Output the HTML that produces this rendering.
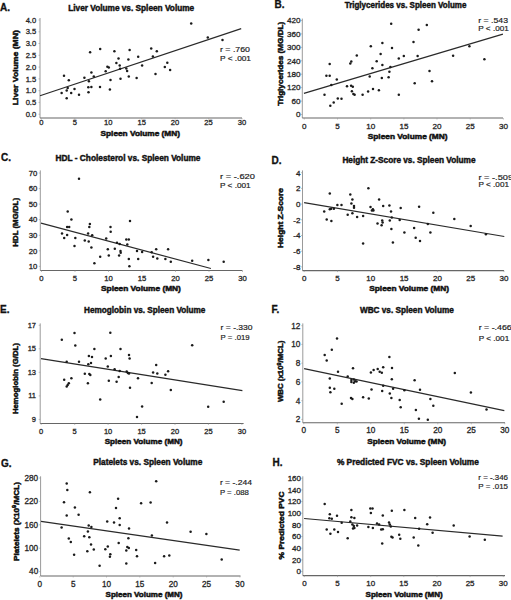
<!DOCTYPE html>
<html><head><meta charset="utf-8"><style>
html,body{margin:0;padding:0;background:#fff;}
body{width:511px;height:600px;overflow:hidden;}
svg{display:block;}
text{font-family:"Liberation Sans",sans-serif;fill:#1a1a1a;}
.lab{font-size:10.0px;font-weight:bold;fill:#111;stroke:#111;stroke-width:0.3;}
.tit{font-size:8.9px;font-weight:bold;fill:#111;stroke:#111;stroke-width:0.45;}
.axt{font-size:7.9px;font-weight:bold;fill:#111;stroke:#111;stroke-width:0.5;}
.tl{font-size:7.6px;font-weight:normal;fill:#262626;stroke:#262626;stroke-width:0.3;}
.rt{font-size:8.0px;fill:#1e1e1e;stroke:#1e1e1e;stroke-width:0.2;}
.yax{stroke:#9a9a9a;stroke-width:1;}
.xax{stroke:#666;stroke-width:1.1;}
.tk{stroke:#999;stroke-width:0.6;}
.reg{stroke:#2a2a2a;stroke-width:1.2;}
circle{fill:#1a1a1a;}
</style></head><body>
<svg width="511" height="600" viewBox="0 0 511 600">
<rect width="511" height="600" fill="#fff"/>
<text class="lab" x="0.0" y="10.8">A.</text>
<text class="tit" x="68.2" y="11.3" textLength="126.0" lengthAdjust="spacingAndGlyphs">Liver Volume vs. Spleen Volume</text>
<line class="yax" x1="40.0" y1="18.0" x2="40.0" y2="118.0"/>
<line class="xax" x1="40.0" y1="118.0" x2="242.0" y2="118.0"/>
<line class="tk" x1="38.5" y1="114.2" x2="40.0" y2="114.2"/>
<text class="tl" style="font-size:7.6px" x="36.2" y="116.8" text-anchor="end">0.0</text>
<line class="tk" x1="38.5" y1="102.4" x2="40.0" y2="102.4"/>
<text class="tl" style="font-size:7.6px" x="36.2" y="105.0" text-anchor="end">0.5</text>
<line class="tk" x1="38.5" y1="90.7" x2="40.0" y2="90.7"/>
<text class="tl" style="font-size:7.6px" x="36.2" y="93.3" text-anchor="end">1.0</text>
<line class="tk" x1="38.5" y1="78.9" x2="40.0" y2="78.9"/>
<text class="tl" style="font-size:7.6px" x="36.2" y="81.5" text-anchor="end">1.5</text>
<line class="tk" x1="38.5" y1="67.1" x2="40.0" y2="67.1"/>
<text class="tl" style="font-size:7.6px" x="36.2" y="69.7" text-anchor="end">2.0</text>
<line class="tk" x1="38.5" y1="55.3" x2="40.0" y2="55.3"/>
<text class="tl" style="font-size:7.6px" x="36.2" y="57.9" text-anchor="end">2.5</text>
<line class="tk" x1="38.5" y1="43.5" x2="40.0" y2="43.5"/>
<text class="tl" style="font-size:7.6px" x="36.2" y="46.2" text-anchor="end">3.0</text>
<line class="tk" x1="38.5" y1="31.8" x2="40.0" y2="31.8"/>
<text class="tl" style="font-size:7.6px" x="36.2" y="34.4" text-anchor="end">3.5</text>
<line class="tk" x1="38.5" y1="20.0" x2="40.0" y2="20.0"/>
<text class="tl" style="font-size:7.6px" x="36.2" y="22.6" text-anchor="end">4.0</text>
<line class="tk" x1="41.3" y1="118.0" x2="41.3" y2="119.5"/>
<text class="tl" style="font-size:7.6px" x="41.3" y="125.1" text-anchor="middle">0</text>
<line class="tk" x1="74.8" y1="118.0" x2="74.8" y2="119.5"/>
<text class="tl" style="font-size:7.6px" x="74.8" y="125.1" text-anchor="middle">5</text>
<line class="tk" x1="108.2" y1="118.0" x2="108.2" y2="119.5"/>
<text class="tl" style="font-size:7.6px" x="108.2" y="125.1" text-anchor="middle">10</text>
<line class="tk" x1="141.7" y1="118.0" x2="141.7" y2="119.5"/>
<text class="tl" style="font-size:7.6px" x="141.7" y="125.1" text-anchor="middle">15</text>
<line class="tk" x1="175.1" y1="118.0" x2="175.1" y2="119.5"/>
<text class="tl" style="font-size:7.6px" x="175.1" y="125.1" text-anchor="middle">20</text>
<line class="tk" x1="208.6" y1="118.0" x2="208.6" y2="119.5"/>
<text class="tl" style="font-size:7.6px" x="208.6" y="125.1" text-anchor="middle">25</text>
<line class="tk" x1="242.0" y1="118.0" x2="242.0" y2="119.5"/>
<text class="tl" style="font-size:7.6px" x="242.0" y="125.1" text-anchor="middle">30</text>
<text class="axt" x="100.5" y="135.9" textLength="79.5" lengthAdjust="spacingAndGlyphs">Spleen Volume (MN)</text>
<text class="axt" transform="translate(18.0,67.7) rotate(-90)" x="-37.5" y="0" textLength="75.0" lengthAdjust="spacingAndGlyphs">Liver Volume (MN)</text>
<text class="rt" x="220.0" y="52.2" textLength="30.0" lengthAdjust="spacingAndGlyphs">r = .760</text>
<text class="rt" x="220.0" y="61.0" textLength="31.0" lengthAdjust="spacingAndGlyphs">P &lt; .001</text>
<line class="reg" x1="40.0" y1="95.8" x2="241.2" y2="28.6"/>
<circle cx="64.0" cy="75.8" r="1.25"/>
<circle cx="68.8" cy="80.3" r="1.25"/>
<circle cx="61.6" cy="93.1" r="1.25"/>
<circle cx="66.7" cy="90.6" r="1.25"/>
<circle cx="67.7" cy="87.9" r="1.25"/>
<circle cx="66.7" cy="98.2" r="1.25"/>
<circle cx="71.2" cy="93.1" r="1.25"/>
<circle cx="74.5" cy="89.0" r="1.25"/>
<circle cx="79.0" cy="94.7" r="1.25"/>
<circle cx="84.4" cy="77.7" r="1.25"/>
<circle cx="88.9" cy="81.2" r="1.25"/>
<circle cx="91.4" cy="72.5" r="1.25"/>
<circle cx="93.8" cy="76.6" r="1.25"/>
<circle cx="88.3" cy="87.3" r="1.25"/>
<circle cx="91.4" cy="86.9" r="1.25"/>
<circle cx="88.5" cy="92.3" r="1.25"/>
<circle cx="90.1" cy="52.2" r="1.25"/>
<circle cx="100.2" cy="49.1" r="1.25"/>
<circle cx="100.0" cy="86.9" r="1.25"/>
<circle cx="105.7" cy="71.3" r="1.25"/>
<circle cx="107.4" cy="66.8" r="1.25"/>
<circle cx="108.8" cy="67.4" r="1.25"/>
<circle cx="110.5" cy="79.9" r="1.25"/>
<circle cx="109.9" cy="89.4" r="1.25"/>
<circle cx="114.4" cy="51.2" r="1.25"/>
<circle cx="116.4" cy="63.1" r="1.25"/>
<circle cx="118.5" cy="58.6" r="1.25"/>
<circle cx="119.7" cy="65.5" r="1.25"/>
<circle cx="120.1" cy="68.8" r="1.25"/>
<circle cx="120.5" cy="78.7" r="1.25"/>
<circle cx="126.3" cy="68.4" r="1.25"/>
<circle cx="127.1" cy="70.9" r="1.25"/>
<circle cx="128.8" cy="76.6" r="1.25"/>
<circle cx="128.4" cy="59.6" r="1.25"/>
<circle cx="129.6" cy="49.9" r="1.25"/>
<circle cx="136.6" cy="78.1" r="1.25"/>
<circle cx="138.2" cy="56.7" r="1.25"/>
<circle cx="142.1" cy="65.5" r="1.25"/>
<circle cx="191.2" cy="23.6" r="1.25"/>
<circle cx="207.8" cy="37.6" r="1.25"/>
<circle cx="222.5" cy="40.0" r="1.25"/>
<circle cx="151.2" cy="48.4" r="1.25"/>
<circle cx="156.8" cy="51.2" r="1.25"/>
<circle cx="152.9" cy="56.6" r="1.25"/>
<circle cx="167.3" cy="62.8" r="1.25"/>
<circle cx="164.8" cy="67.1" r="1.25"/>
<circle cx="170.1" cy="70.1" r="1.25"/>
<circle cx="155.5" cy="74.0" r="1.25"/>
<text class="lab" x="274.6" y="7.8">B.</text>
<text class="tit" x="344.7" y="7.6" textLength="121.7" lengthAdjust="spacingAndGlyphs">Triglycerides vs. Spleen Volume</text>
<line class="yax" x1="302.3" y1="18.6" x2="302.3" y2="118.0"/>
<line class="xax" x1="302.3" y1="118.0" x2="503.0" y2="118.0"/>
<line class="tk" x1="300.8" y1="114.5" x2="302.3" y2="114.5"/>
<text class="tl" style="font-size:8.1px" x="300.4" y="117.3" text-anchor="end">0</text>
<line class="tk" x1="300.8" y1="101.1" x2="302.3" y2="101.1"/>
<text class="tl" style="font-size:8.1px" x="300.4" y="103.9" text-anchor="end">60</text>
<line class="tk" x1="300.8" y1="87.6" x2="302.3" y2="87.6"/>
<text class="tl" style="font-size:8.1px" x="300.4" y="90.4" text-anchor="end">120</text>
<line class="tk" x1="300.8" y1="74.2" x2="302.3" y2="74.2"/>
<text class="tl" style="font-size:8.1px" x="300.4" y="77.0" text-anchor="end">180</text>
<line class="tk" x1="300.8" y1="60.8" x2="302.3" y2="60.8"/>
<text class="tl" style="font-size:8.1px" x="300.4" y="63.6" text-anchor="end">240</text>
<line class="tk" x1="300.8" y1="47.4" x2="302.3" y2="47.4"/>
<text class="tl" style="font-size:8.1px" x="300.4" y="50.2" text-anchor="end">300</text>
<line class="tk" x1="300.8" y1="33.9" x2="302.3" y2="33.9"/>
<text class="tl" style="font-size:8.1px" x="300.4" y="36.7" text-anchor="end">360</text>
<line class="tk" x1="300.8" y1="20.5" x2="302.3" y2="20.5"/>
<text class="tl" style="font-size:8.1px" x="300.4" y="23.3" text-anchor="end">420</text>
<line class="tk" x1="304.3" y1="118.0" x2="304.3" y2="119.5"/>
<text class="tl" style="font-size:8.1px" x="304.3" y="128.5" text-anchor="middle">0</text>
<line class="tk" x1="337.5" y1="118.0" x2="337.5" y2="119.5"/>
<text class="tl" style="font-size:8.1px" x="337.5" y="128.5" text-anchor="middle">5</text>
<line class="tk" x1="370.7" y1="118.0" x2="370.7" y2="119.5"/>
<text class="tl" style="font-size:8.1px" x="370.7" y="128.5" text-anchor="middle">10</text>
<line class="tk" x1="403.9" y1="118.0" x2="403.9" y2="119.5"/>
<text class="tl" style="font-size:8.1px" x="403.9" y="128.5" text-anchor="middle">15</text>
<line class="tk" x1="437.0" y1="118.0" x2="437.0" y2="119.5"/>
<text class="tl" style="font-size:8.1px" x="437.0" y="128.5" text-anchor="middle">20</text>
<line class="tk" x1="470.2" y1="118.0" x2="470.2" y2="119.5"/>
<text class="tl" style="font-size:8.1px" x="470.2" y="128.5" text-anchor="middle">25</text>
<line class="tk" x1="503.4" y1="118.0" x2="503.4" y2="119.5"/>
<text class="tl" style="font-size:8.1px" x="503.4" y="128.5" text-anchor="middle">30</text>
<text class="axt" x="367.7" y="139.0" textLength="79.9" lengthAdjust="spacingAndGlyphs">Spleen Volume (MN)</text>
<text class="axt" transform="translate(283.0,63.8) rotate(-90)" x="-42.0" y="0" textLength="84.0" lengthAdjust="spacingAndGlyphs">Triglycerides (MG/DL)</text>
<text class="rt" x="478.3" y="23.0" textLength="29.7" lengthAdjust="spacingAndGlyphs">r = .543</text>
<text class="rt" x="478.3" y="31.2" textLength="30.5" lengthAdjust="spacingAndGlyphs">P &lt; .001</text>
<line class="reg" x1="303.9" y1="93.3" x2="502.9" y2="34.1"/>
<circle cx="324.5" cy="94.8" r="1.25"/>
<circle cx="326.4" cy="75.7" r="1.25"/>
<circle cx="329.7" cy="75.7" r="1.25"/>
<circle cx="329.7" cy="63.9" r="1.25"/>
<circle cx="331.3" cy="84.9" r="1.25"/>
<circle cx="330.3" cy="105.8" r="1.25"/>
<circle cx="333.7" cy="102.5" r="1.25"/>
<circle cx="336.8" cy="79.6" r="1.25"/>
<circle cx="337.8" cy="98.4" r="1.25"/>
<circle cx="341.5" cy="98.8" r="1.25"/>
<circle cx="347.0" cy="86.2" r="1.25"/>
<circle cx="350.3" cy="63.5" r="1.25"/>
<circle cx="351.3" cy="61.4" r="1.25"/>
<circle cx="351.1" cy="85.8" r="1.25"/>
<circle cx="352.8" cy="86.8" r="1.25"/>
<circle cx="351.9" cy="91.3" r="1.25"/>
<circle cx="353.4" cy="93.9" r="1.25"/>
<circle cx="354.6" cy="94.8" r="1.25"/>
<circle cx="356.8" cy="55.5" r="1.25"/>
<circle cx="362.6" cy="94.8" r="1.25"/>
<circle cx="368.1" cy="91.5" r="1.25"/>
<circle cx="369.7" cy="76.4" r="1.25"/>
<circle cx="370.8" cy="46.3" r="1.25"/>
<circle cx="372.4" cy="68.2" r="1.25"/>
<circle cx="373.0" cy="89.0" r="1.25"/>
<circle cx="376.7" cy="61.2" r="1.25"/>
<circle cx="378.9" cy="90.3" r="1.25"/>
<circle cx="380.6" cy="54.1" r="1.25"/>
<circle cx="381.8" cy="78.0" r="1.25"/>
<circle cx="382.4" cy="43.0" r="1.25"/>
<circle cx="382.4" cy="65.1" r="1.25"/>
<circle cx="388.6" cy="77.2" r="1.25"/>
<circle cx="389.4" cy="71.8" r="1.25"/>
<circle cx="390.4" cy="67.1" r="1.25"/>
<circle cx="391.2" cy="23.8" r="1.25"/>
<circle cx="392.0" cy="47.9" r="1.25"/>
<circle cx="398.8" cy="58.4" r="1.25"/>
<circle cx="398.8" cy="94.8" r="1.25"/>
<circle cx="426.8" cy="24.9" r="1.25"/>
<circle cx="418.6" cy="29.8" r="1.25"/>
<circle cx="413.5" cy="42.1" r="1.25"/>
<circle cx="403.8" cy="56.1" r="1.25"/>
<circle cx="417.6" cy="56.1" r="1.25"/>
<circle cx="453.1" cy="55.7" r="1.25"/>
<circle cx="469.4" cy="46.2" r="1.25"/>
<circle cx="484.4" cy="59.2" r="1.25"/>
<circle cx="429.5" cy="70.9" r="1.25"/>
<circle cx="414.7" cy="83.2" r="1.25"/>
<circle cx="432.0" cy="81.2" r="1.25"/>
<text class="lab" x="1.0" y="160.7">C.</text>
<text class="tit" x="55.6" y="160.5" textLength="144.9" lengthAdjust="spacingAndGlyphs">HDL - Cholesterol vs. Spleen Volume</text>
<line class="yax" x1="40.3" y1="170.4" x2="40.3" y2="270.5"/>
<line class="xax" x1="40.3" y1="270.5" x2="242.4" y2="270.5"/>
<line class="tk" x1="38.8" y1="266.4" x2="40.3" y2="266.4"/>
<text class="tl" style="font-size:7.7px" x="37.2" y="269.1" text-anchor="end">10</text>
<line class="tk" x1="38.8" y1="250.8" x2="40.3" y2="250.8"/>
<text class="tl" style="font-size:7.7px" x="37.2" y="253.5" text-anchor="end">20</text>
<line class="tk" x1="38.8" y1="235.3" x2="40.3" y2="235.3"/>
<text class="tl" style="font-size:7.7px" x="37.2" y="237.9" text-anchor="end">30</text>
<line class="tk" x1="38.8" y1="219.7" x2="40.3" y2="219.7"/>
<text class="tl" style="font-size:7.7px" x="37.2" y="222.4" text-anchor="end">40</text>
<line class="tk" x1="38.8" y1="204.1" x2="40.3" y2="204.1"/>
<text class="tl" style="font-size:7.7px" x="37.2" y="206.8" text-anchor="end">50</text>
<line class="tk" x1="38.8" y1="188.6" x2="40.3" y2="188.6"/>
<text class="tl" style="font-size:7.7px" x="37.2" y="191.2" text-anchor="end">60</text>
<line class="tk" x1="38.8" y1="173.0" x2="40.3" y2="173.0"/>
<text class="tl" style="font-size:7.7px" x="37.2" y="175.7" text-anchor="end">70</text>
<line class="tk" x1="41.5" y1="270.5" x2="41.5" y2="272.0"/>
<text class="tl" style="font-size:7.7px" x="41.5" y="280.7" text-anchor="middle">0</text>
<line class="tk" x1="75.0" y1="270.5" x2="75.0" y2="272.0"/>
<text class="tl" style="font-size:7.7px" x="75.0" y="280.7" text-anchor="middle">5</text>
<line class="tk" x1="108.5" y1="270.5" x2="108.5" y2="272.0"/>
<text class="tl" style="font-size:7.7px" x="108.5" y="280.7" text-anchor="middle">10</text>
<line class="tk" x1="142.0" y1="270.5" x2="142.0" y2="272.0"/>
<text class="tl" style="font-size:7.7px" x="142.0" y="280.7" text-anchor="middle">15</text>
<line class="tk" x1="175.5" y1="270.5" x2="175.5" y2="272.0"/>
<text class="tl" style="font-size:7.7px" x="175.5" y="280.7" text-anchor="middle">20</text>
<line class="tk" x1="209.0" y1="270.5" x2="209.0" y2="272.0"/>
<text class="tl" style="font-size:7.7px" x="209.0" y="280.7" text-anchor="middle">25</text>
<line class="tk" x1="242.5" y1="270.5" x2="242.5" y2="272.0"/>
<text class="tl" style="font-size:7.7px" x="242.5" y="280.7" text-anchor="middle">30</text>
<text class="axt" x="101.0" y="291.1" textLength="79.9" lengthAdjust="spacingAndGlyphs">Spleen Volume (MN)</text>
<text class="axt" transform="translate(18.0,222.3) rotate(-90)" x="-24.4" y="0" textLength="48.7" lengthAdjust="spacingAndGlyphs">HDL (MG/DL)</text>
<text class="rt" x="220.0" y="179.4" textLength="34.9" lengthAdjust="spacingAndGlyphs">r = -.620</text>
<text class="rt" x="220.0" y="188.2" textLength="30.7" lengthAdjust="spacingAndGlyphs">P &lt; .001</text>
<line class="reg" x1="41.0" y1="223.1" x2="210.9" y2="268.5"/>
<circle cx="79.0" cy="178.8" r="1.25"/>
<circle cx="67.7" cy="211.4" r="1.25"/>
<circle cx="71.4" cy="219.4" r="1.25"/>
<circle cx="67.1" cy="227.1" r="1.25"/>
<circle cx="69.2" cy="227.1" r="1.25"/>
<circle cx="62.0" cy="233.4" r="1.25"/>
<circle cx="67.1" cy="234.9" r="1.25"/>
<circle cx="64.2" cy="238.1" r="1.25"/>
<circle cx="75.3" cy="238.1" r="1.25"/>
<circle cx="74.5" cy="246.0" r="1.25"/>
<circle cx="89.9" cy="224.0" r="1.25"/>
<circle cx="89.3" cy="227.1" r="1.25"/>
<circle cx="88.1" cy="233.4" r="1.25"/>
<circle cx="92.2" cy="235.3" r="1.25"/>
<circle cx="84.8" cy="240.6" r="1.25"/>
<circle cx="88.7" cy="241.4" r="1.25"/>
<circle cx="91.4" cy="247.6" r="1.25"/>
<circle cx="94.4" cy="263.2" r="1.25"/>
<circle cx="100.2" cy="256.8" r="1.25"/>
<circle cx="106.2" cy="238.4" r="1.25"/>
<circle cx="110.5" cy="227.1" r="1.25"/>
<circle cx="110.7" cy="231.8" r="1.25"/>
<circle cx="107.8" cy="249.2" r="1.25"/>
<circle cx="108.8" cy="255.4" r="1.25"/>
<circle cx="114.8" cy="248.8" r="1.25"/>
<circle cx="117.0" cy="242.7" r="1.25"/>
<circle cx="119.7" cy="244.1" r="1.25"/>
<circle cx="120.5" cy="250.9" r="1.25"/>
<circle cx="120.7" cy="252.7" r="1.25"/>
<circle cx="119.1" cy="255.4" r="1.25"/>
<circle cx="126.3" cy="239.4" r="1.25"/>
<circle cx="128.8" cy="239.4" r="1.25"/>
<circle cx="127.3" cy="244.5" r="1.25"/>
<circle cx="130.0" cy="220.9" r="1.25"/>
<circle cx="128.8" cy="258.9" r="1.25"/>
<circle cx="129.4" cy="266.3" r="1.25"/>
<circle cx="137.0" cy="250.9" r="1.25"/>
<circle cx="138.2" cy="258.9" r="1.25"/>
<circle cx="142.1" cy="251.9" r="1.25"/>
<circle cx="156.2" cy="249.2" r="1.25"/>
<circle cx="151.7" cy="252.3" r="1.25"/>
<circle cx="153.1" cy="256.8" r="1.25"/>
<circle cx="157.3" cy="258.6" r="1.25"/>
<circle cx="165.4" cy="259.1" r="1.25"/>
<circle cx="168.1" cy="249.2" r="1.25"/>
<circle cx="170.8" cy="261.8" r="1.25"/>
<circle cx="192.2" cy="260.7" r="1.25"/>
<circle cx="208.4" cy="260.0" r="1.25"/>
<circle cx="223.7" cy="261.8" r="1.25"/>
<text class="lab" x="271.6" y="164.2">D.</text>
<text class="tit" x="342.4" y="163.0" textLength="133.1" lengthAdjust="spacingAndGlyphs">Height Z-Score vs. Spleen Volume</text>
<line class="yax" x1="302.5" y1="170.4" x2="302.5" y2="270.6"/>
<line class="xax" x1="302.5" y1="270.6" x2="504.0" y2="270.6"/>
<line class="tk" x1="301.0" y1="266.9" x2="302.5" y2="266.9"/>
<text class="tl" style="font-size:8.0px" x="300.4" y="269.7" text-anchor="end">-8</text>
<line class="tk" x1="301.0" y1="251.2" x2="302.5" y2="251.2"/>
<text class="tl" style="font-size:8.0px" x="300.4" y="254.0" text-anchor="end">-6</text>
<line class="tk" x1="301.0" y1="235.5" x2="302.5" y2="235.5"/>
<text class="tl" style="font-size:8.0px" x="300.4" y="238.3" text-anchor="end">-4</text>
<line class="tk" x1="301.0" y1="219.8" x2="302.5" y2="219.8"/>
<text class="tl" style="font-size:8.0px" x="300.4" y="222.6" text-anchor="end">-2</text>
<line class="tk" x1="301.0" y1="204.1" x2="302.5" y2="204.1"/>
<text class="tl" style="font-size:8.0px" x="300.4" y="206.9" text-anchor="end">0</text>
<line class="tk" x1="301.0" y1="188.4" x2="302.5" y2="188.4"/>
<text class="tl" style="font-size:8.0px" x="300.4" y="191.2" text-anchor="end">2</text>
<line class="tk" x1="301.0" y1="172.7" x2="302.5" y2="172.7"/>
<text class="tl" style="font-size:8.0px" x="300.4" y="175.5" text-anchor="end">4</text>
<line class="tk" x1="304.2" y1="270.6" x2="304.2" y2="272.1"/>
<text class="tl" style="font-size:8.0px" x="304.2" y="280.6" text-anchor="middle">0</text>
<line class="tk" x1="337.5" y1="270.6" x2="337.5" y2="272.1"/>
<text class="tl" style="font-size:8.0px" x="337.5" y="280.6" text-anchor="middle">5</text>
<line class="tk" x1="370.8" y1="270.6" x2="370.8" y2="272.1"/>
<text class="tl" style="font-size:8.0px" x="370.8" y="280.6" text-anchor="middle">10</text>
<line class="tk" x1="404.1" y1="270.6" x2="404.1" y2="272.1"/>
<text class="tl" style="font-size:8.0px" x="404.1" y="280.6" text-anchor="middle">15</text>
<line class="tk" x1="437.4" y1="270.6" x2="437.4" y2="272.1"/>
<text class="tl" style="font-size:8.0px" x="437.4" y="280.6" text-anchor="middle">20</text>
<line class="tk" x1="470.7" y1="270.6" x2="470.7" y2="272.1"/>
<text class="tl" style="font-size:8.0px" x="470.7" y="280.6" text-anchor="middle">25</text>
<line class="tk" x1="504.0" y1="270.6" x2="504.0" y2="272.1"/>
<text class="tl" style="font-size:8.0px" x="504.0" y="280.6" text-anchor="middle">30</text>
<text class="axt" x="369.2" y="291.1" textLength="79.8" lengthAdjust="spacingAndGlyphs">Spleen Volume (MN)</text>
<text class="axt" transform="translate(283.2,218.0) rotate(-90)" x="-30.0" y="0" textLength="60.0" lengthAdjust="spacingAndGlyphs">Height Z-Score</text>
<text class="rt" x="478.5" y="179.5" textLength="34.5" lengthAdjust="spacingAndGlyphs">r = -.509</text>
<text class="rt" x="478.5" y="187.0" textLength="30.5" lengthAdjust="spacingAndGlyphs">P &lt; .001</text>
<line class="reg" x1="304.1" y1="202.6" x2="504.3" y2="236.5"/>
<circle cx="329.8" cy="193.4" r="1.25"/>
<circle cx="324.2" cy="211.6" r="1.25"/>
<circle cx="329.8" cy="209.2" r="1.25"/>
<circle cx="331.2" cy="208.8" r="1.25"/>
<circle cx="333.9" cy="208.8" r="1.25"/>
<circle cx="326.7" cy="219.4" r="1.25"/>
<circle cx="331.4" cy="221.1" r="1.25"/>
<circle cx="337.4" cy="205.1" r="1.25"/>
<circle cx="341.5" cy="205.1" r="1.25"/>
<circle cx="350.3" cy="194.4" r="1.25"/>
<circle cx="352.4" cy="199.5" r="1.25"/>
<circle cx="351.4" cy="203.4" r="1.25"/>
<circle cx="354.0" cy="206.1" r="1.25"/>
<circle cx="354.0" cy="207.7" r="1.25"/>
<circle cx="347.7" cy="214.7" r="1.25"/>
<circle cx="352.4" cy="213.3" r="1.25"/>
<circle cx="357.1" cy="217.0" r="1.25"/>
<circle cx="363.1" cy="216.0" r="1.25"/>
<circle cx="363.1" cy="243.5" r="1.25"/>
<circle cx="368.4" cy="188.2" r="1.25"/>
<circle cx="370.5" cy="207.1" r="1.25"/>
<circle cx="371.9" cy="210.6" r="1.25"/>
<circle cx="373.4" cy="210.6" r="1.25"/>
<circle cx="372.9" cy="209.2" r="1.25"/>
<circle cx="379.1" cy="199.5" r="1.25"/>
<circle cx="383.2" cy="206.1" r="1.25"/>
<circle cx="377.5" cy="223.6" r="1.25"/>
<circle cx="382.2" cy="220.5" r="1.25"/>
<circle cx="382.6" cy="222.5" r="1.25"/>
<circle cx="381.6" cy="225.2" r="1.25"/>
<circle cx="389.4" cy="205.5" r="1.25"/>
<circle cx="391.0" cy="211.6" r="1.25"/>
<circle cx="391.8" cy="217.4" r="1.25"/>
<circle cx="389.8" cy="220.5" r="1.25"/>
<circle cx="391.4" cy="229.1" r="1.25"/>
<circle cx="392.9" cy="242.5" r="1.25"/>
<circle cx="400.7" cy="208.1" r="1.25"/>
<circle cx="399.7" cy="220.1" r="1.25"/>
<circle cx="404.4" cy="232.4" r="1.25"/>
<circle cx="419.1" cy="206.7" r="1.25"/>
<circle cx="433.3" cy="212.8" r="1.25"/>
<circle cx="454.3" cy="219.1" r="1.25"/>
<circle cx="427.8" cy="224.1" r="1.25"/>
<circle cx="470.7" cy="225.9" r="1.25"/>
<circle cx="485.9" cy="234.3" r="1.25"/>
<circle cx="414.1" cy="228.0" r="1.25"/>
<circle cx="430.4" cy="232.4" r="1.25"/>
<circle cx="415.7" cy="237.8" r="1.25"/>
<circle cx="420.0" cy="240.9" r="1.25"/>
<text class="lab" x="0.0" y="313.0">E.</text>
<text class="tit" x="84.1" y="313.0" textLength="121.3" lengthAdjust="spacingAndGlyphs">Hemoglobin vs. Spleen Volume</text>
<line class="yax" x1="40.2" y1="323.4" x2="40.2" y2="423.5"/>
<line class="xax" x1="40.2" y1="423.5" x2="243.6" y2="423.5"/>
<line class="tk" x1="38.7" y1="419.4" x2="40.2" y2="419.4"/>
<text class="tl" style="font-size:7.5px" x="36.0" y="422.0" text-anchor="end">9</text>
<line class="tk" x1="38.7" y1="395.9" x2="40.2" y2="395.9"/>
<text class="tl" style="font-size:7.5px" x="36.0" y="398.4" text-anchor="end">11</text>
<line class="tk" x1="38.7" y1="372.3" x2="40.2" y2="372.3"/>
<text class="tl" style="font-size:7.5px" x="36.0" y="374.9" text-anchor="end">13</text>
<line class="tk" x1="38.7" y1="348.8" x2="40.2" y2="348.8"/>
<text class="tl" style="font-size:7.5px" x="36.0" y="351.4" text-anchor="end">15</text>
<line class="tk" x1="38.7" y1="325.3" x2="40.2" y2="325.3"/>
<text class="tl" style="font-size:7.5px" x="36.0" y="327.9" text-anchor="end">17</text>
<line class="tk" x1="41.2" y1="423.5" x2="41.2" y2="425.0"/>
<text class="tl" style="font-size:7.5px" x="41.2" y="433.6" text-anchor="middle">0</text>
<line class="tk" x1="74.7" y1="423.5" x2="74.7" y2="425.0"/>
<text class="tl" style="font-size:7.5px" x="74.7" y="433.6" text-anchor="middle">5</text>
<line class="tk" x1="108.1" y1="423.5" x2="108.1" y2="425.0"/>
<text class="tl" style="font-size:7.5px" x="108.1" y="433.6" text-anchor="middle">10</text>
<line class="tk" x1="141.6" y1="423.5" x2="141.6" y2="425.0"/>
<text class="tl" style="font-size:7.5px" x="141.6" y="433.6" text-anchor="middle">15</text>
<line class="tk" x1="175.0" y1="423.5" x2="175.0" y2="425.0"/>
<text class="tl" style="font-size:7.5px" x="175.0" y="433.6" text-anchor="middle">20</text>
<line class="tk" x1="208.4" y1="423.5" x2="208.4" y2="425.0"/>
<text class="tl" style="font-size:7.5px" x="208.4" y="433.6" text-anchor="middle">25</text>
<line class="tk" x1="241.9" y1="423.5" x2="241.9" y2="425.0"/>
<text class="tl" style="font-size:7.5px" x="241.9" y="433.6" text-anchor="middle">30</text>
<text class="axt" x="104.7" y="444.2" textLength="77.8" lengthAdjust="spacingAndGlyphs">Spleen Volume (MN)</text>
<text class="axt" transform="translate(18.1,378.6) rotate(-90)" x="-35.5" y="0" textLength="71.0" lengthAdjust="spacingAndGlyphs">Hemoglobin (G/DL)</text>
<text class="rt" x="220.6" y="329.6" textLength="32.0" lengthAdjust="spacingAndGlyphs">r = -.330</text>
<text class="rt" x="220.6" y="339.7" textLength="29.0" lengthAdjust="spacingAndGlyphs">P = .019</text>
<line class="reg" x1="41.0" y1="358.6" x2="242.4" y2="390.6"/>
<circle cx="61.8" cy="339.7" r="1.25"/>
<circle cx="74.5" cy="332.9" r="1.25"/>
<circle cx="75.3" cy="345.6" r="1.25"/>
<circle cx="66.7" cy="361.8" r="1.25"/>
<circle cx="79.0" cy="361.8" r="1.25"/>
<circle cx="64.2" cy="379.7" r="1.25"/>
<circle cx="71.4" cy="378.3" r="1.25"/>
<circle cx="68.8" cy="383.2" r="1.25"/>
<circle cx="67.7" cy="384.9" r="1.25"/>
<circle cx="66.7" cy="386.5" r="1.25"/>
<circle cx="94.4" cy="348.9" r="1.25"/>
<circle cx="88.9" cy="356.1" r="1.25"/>
<circle cx="92.0" cy="357.1" r="1.25"/>
<circle cx="88.3" cy="364.3" r="1.25"/>
<circle cx="91.0" cy="362.9" r="1.25"/>
<circle cx="84.8" cy="373.8" r="1.25"/>
<circle cx="89.3" cy="374.0" r="1.25"/>
<circle cx="90.3" cy="375.0" r="1.25"/>
<circle cx="87.9" cy="383.2" r="1.25"/>
<circle cx="100.2" cy="399.4" r="1.25"/>
<circle cx="110.3" cy="332.7" r="1.25"/>
<circle cx="105.7" cy="358.6" r="1.25"/>
<circle cx="110.9" cy="356.1" r="1.25"/>
<circle cx="107.8" cy="366.4" r="1.25"/>
<circle cx="114.6" cy="369.2" r="1.25"/>
<circle cx="108.8" cy="380.7" r="1.25"/>
<circle cx="116.6" cy="381.8" r="1.25"/>
<circle cx="118.7" cy="377.1" r="1.25"/>
<circle cx="119.7" cy="371.1" r="1.25"/>
<circle cx="120.5" cy="349.1" r="1.25"/>
<circle cx="126.7" cy="371.5" r="1.25"/>
<circle cx="127.9" cy="372.9" r="1.25"/>
<circle cx="129.0" cy="373.6" r="1.25"/>
<circle cx="129.0" cy="355.1" r="1.25"/>
<circle cx="129.6" cy="358.6" r="1.25"/>
<circle cx="130.0" cy="387.7" r="1.25"/>
<circle cx="138.0" cy="378.3" r="1.25"/>
<circle cx="142.1" cy="406.4" r="1.25"/>
<circle cx="137.0" cy="417.1" r="1.25"/>
<circle cx="192.2" cy="345.3" r="1.25"/>
<circle cx="156.2" cy="365.1" r="1.25"/>
<circle cx="153.1" cy="372.6" r="1.25"/>
<circle cx="157.3" cy="373.5" r="1.25"/>
<circle cx="165.4" cy="374.8" r="1.25"/>
<circle cx="168.1" cy="371.2" r="1.25"/>
<circle cx="151.7" cy="383.1" r="1.25"/>
<circle cx="170.8" cy="389.9" r="1.25"/>
<circle cx="208.2" cy="406.8" r="1.25"/>
<circle cx="223.7" cy="401.8" r="1.25"/>
<text class="lab" x="271.6" y="312.6">F.</text>
<text class="tit" x="359.9" y="312.9" textLength="93.9" lengthAdjust="spacingAndGlyphs">WBC vs. Spleen Volume</text>
<line class="yax" x1="302.8" y1="323.4" x2="302.8" y2="422.8"/>
<line class="xax" x1="302.8" y1="422.8" x2="505.0" y2="422.8"/>
<line class="tk" x1="301.3" y1="419.4" x2="302.8" y2="419.4"/>
<text class="tl" style="font-size:8.2px" x="300.4" y="422.2" text-anchor="end">2</text>
<line class="tk" x1="301.3" y1="400.7" x2="302.8" y2="400.7"/>
<text class="tl" style="font-size:8.2px" x="300.4" y="403.5" text-anchor="end">4</text>
<line class="tk" x1="301.3" y1="381.9" x2="302.8" y2="381.9"/>
<text class="tl" style="font-size:8.2px" x="300.4" y="384.7" text-anchor="end">6</text>
<line class="tk" x1="301.3" y1="363.2" x2="302.8" y2="363.2"/>
<text class="tl" style="font-size:8.2px" x="300.4" y="366.0" text-anchor="end">8</text>
<line class="tk" x1="301.3" y1="344.4" x2="302.8" y2="344.4"/>
<text class="tl" style="font-size:8.2px" x="300.4" y="347.3" text-anchor="end">10</text>
<line class="tk" x1="301.3" y1="325.7" x2="302.8" y2="325.7"/>
<text class="tl" style="font-size:8.2px" x="300.4" y="328.5" text-anchor="end">12</text>
<line class="tk" x1="303.8" y1="422.8" x2="303.8" y2="424.3"/>
<text class="tl" style="font-size:8.2px" x="303.8" y="433.1" text-anchor="middle">0</text>
<line class="tk" x1="337.3" y1="422.8" x2="337.3" y2="424.3"/>
<text class="tl" style="font-size:8.2px" x="337.3" y="433.1" text-anchor="middle">5</text>
<line class="tk" x1="370.8" y1="422.8" x2="370.8" y2="424.3"/>
<text class="tl" style="font-size:8.2px" x="370.8" y="433.1" text-anchor="middle">10</text>
<line class="tk" x1="404.3" y1="422.8" x2="404.3" y2="424.3"/>
<text class="tl" style="font-size:8.2px" x="404.3" y="433.1" text-anchor="middle">15</text>
<line class="tk" x1="437.8" y1="422.8" x2="437.8" y2="424.3"/>
<text class="tl" style="font-size:8.2px" x="437.8" y="433.1" text-anchor="middle">20</text>
<line class="tk" x1="471.3" y1="422.8" x2="471.3" y2="424.3"/>
<text class="tl" style="font-size:8.2px" x="471.3" y="433.1" text-anchor="middle">25</text>
<line class="tk" x1="504.8" y1="422.8" x2="504.8" y2="424.3"/>
<text class="tl" style="font-size:8.2px" x="504.8" y="433.1" text-anchor="middle">30</text>
<text class="axt" x="367.3" y="444.1" textLength="78.8" lengthAdjust="spacingAndGlyphs">Spleen Volume (MN)</text>
<text class="axt" transform="translate(283.0,371.3) rotate(-90)" x="-30.8" y="0" textLength="61.5" lengthAdjust="spacingAndGlyphs">WBC (x10<tspan dy="-2.5" font-size="5.5">9</tspan><tspan dy="2.5">/MCL)</tspan></text>
<text class="rt" x="478.7" y="329.7" textLength="33.0" lengthAdjust="spacingAndGlyphs">r = -.466</text>
<text class="rt" x="478.7" y="340.5" textLength="30.5" lengthAdjust="spacingAndGlyphs">P &lt; .001</text>
<line class="reg" x1="304.1" y1="368.6" x2="504.3" y2="410.7"/>
<circle cx="337.0" cy="338.5" r="1.25"/>
<circle cx="331.8" cy="349.8" r="1.25"/>
<circle cx="324.7" cy="354.9" r="1.25"/>
<circle cx="326.7" cy="360.5" r="1.25"/>
<circle cx="338.0" cy="371.8" r="1.25"/>
<circle cx="329.8" cy="378.6" r="1.25"/>
<circle cx="329.8" cy="387.8" r="1.25"/>
<circle cx="334.3" cy="388.8" r="1.25"/>
<circle cx="330.4" cy="392.3" r="1.25"/>
<circle cx="341.7" cy="403.8" r="1.25"/>
<circle cx="347.7" cy="376.5" r="1.25"/>
<circle cx="353.0" cy="368.3" r="1.25"/>
<circle cx="351.4" cy="380.0" r="1.25"/>
<circle cx="353.8" cy="379.6" r="1.25"/>
<circle cx="355.1" cy="381.2" r="1.25"/>
<circle cx="351.4" cy="382.1" r="1.25"/>
<circle cx="353.8" cy="382.7" r="1.25"/>
<circle cx="356.5" cy="381.6" r="1.25"/>
<circle cx="351.0" cy="398.1" r="1.25"/>
<circle cx="352.4" cy="399.1" r="1.25"/>
<circle cx="363.1" cy="397.3" r="1.25"/>
<circle cx="368.8" cy="398.5" r="1.25"/>
<circle cx="370.9" cy="372.4" r="1.25"/>
<circle cx="373.6" cy="369.9" r="1.25"/>
<circle cx="371.5" cy="389.4" r="1.25"/>
<circle cx="377.7" cy="368.9" r="1.25"/>
<circle cx="379.7" cy="371.8" r="1.25"/>
<circle cx="381.8" cy="372.8" r="1.25"/>
<circle cx="383.2" cy="367.3" r="1.25"/>
<circle cx="383.2" cy="385.7" r="1.25"/>
<circle cx="382.2" cy="390.9" r="1.25"/>
<circle cx="389.4" cy="357.0" r="1.25"/>
<circle cx="392.0" cy="367.9" r="1.25"/>
<circle cx="391.8" cy="379.2" r="1.25"/>
<circle cx="393.1" cy="388.8" r="1.25"/>
<circle cx="389.8" cy="393.4" r="1.25"/>
<circle cx="391.4" cy="398.1" r="1.25"/>
<circle cx="399.7" cy="400.1" r="1.25"/>
<circle cx="400.7" cy="407.3" r="1.25"/>
<circle cx="404.4" cy="390.3" r="1.25"/>
<circle cx="454.8" cy="373.0" r="1.25"/>
<circle cx="414.6" cy="380.2" r="1.25"/>
<circle cx="420.0" cy="389.8" r="1.25"/>
<circle cx="470.9" cy="392.6" r="1.25"/>
<circle cx="430.4" cy="399.1" r="1.25"/>
<circle cx="433.3" cy="405.7" r="1.25"/>
<circle cx="415.9" cy="410.0" r="1.25"/>
<circle cx="486.5" cy="409.6" r="1.25"/>
<circle cx="418.9" cy="418.7" r="1.25"/>
<circle cx="427.8" cy="419.8" r="1.25"/>
<text class="lab" x="1.0" y="466.5">G.</text>
<text class="tit" x="93.2" y="465.0" textLength="109.1" lengthAdjust="spacingAndGlyphs">Platelets vs. Spleen Volume</text>
<line class="yax" x1="40.6" y1="476.3" x2="40.6" y2="576.0"/>
<line class="xax" x1="40.6" y1="576.0" x2="240.5" y2="576.0"/>
<line class="tk" x1="39.1" y1="571.6" x2="40.6" y2="571.6"/>
<text class="tl" style="font-size:8.2px" x="38.2" y="574.4" text-anchor="end">40</text>
<line class="tk" x1="39.1" y1="548.2" x2="40.6" y2="548.2"/>
<text class="tl" style="font-size:8.2px" x="38.2" y="551.0" text-anchor="end">100</text>
<line class="tk" x1="39.1" y1="524.8" x2="40.6" y2="524.8"/>
<text class="tl" style="font-size:8.2px" x="38.2" y="527.6" text-anchor="end">160</text>
<line class="tk" x1="39.1" y1="501.4" x2="40.6" y2="501.4"/>
<text class="tl" style="font-size:8.2px" x="38.2" y="504.2" text-anchor="end">220</text>
<line class="tk" x1="39.1" y1="478.0" x2="40.6" y2="478.0"/>
<text class="tl" style="font-size:8.2px" x="38.2" y="480.8" text-anchor="end">280</text>
<line class="tk" x1="39.8" y1="576.0" x2="39.8" y2="577.5"/>
<text class="tl" style="font-size:8.2px" x="39.8" y="586.8" text-anchor="middle">0</text>
<line class="tk" x1="73.2" y1="576.0" x2="73.2" y2="577.5"/>
<text class="tl" style="font-size:8.2px" x="73.2" y="586.8" text-anchor="middle">5</text>
<line class="tk" x1="106.5" y1="576.0" x2="106.5" y2="577.5"/>
<text class="tl" style="font-size:8.2px" x="106.5" y="586.8" text-anchor="middle">10</text>
<line class="tk" x1="139.8" y1="576.0" x2="139.8" y2="577.5"/>
<text class="tl" style="font-size:8.2px" x="139.8" y="586.8" text-anchor="middle">15</text>
<line class="tk" x1="173.2" y1="576.0" x2="173.2" y2="577.5"/>
<text class="tl" style="font-size:8.2px" x="173.2" y="586.8" text-anchor="middle">20</text>
<line class="tk" x1="206.6" y1="576.0" x2="206.6" y2="577.5"/>
<text class="tl" style="font-size:8.2px" x="206.6" y="586.8" text-anchor="middle">25</text>
<line class="tk" x1="239.9" y1="576.0" x2="239.9" y2="577.5"/>
<text class="tl" style="font-size:8.2px" x="239.9" y="586.8" text-anchor="middle">30</text>
<text class="axt" x="105.6" y="597.1" textLength="76.9" lengthAdjust="spacingAndGlyphs">Spleen Volume (MN)</text>
<text class="axt" transform="translate(18.6,521.5) rotate(-90)" x="-39.5" y="0" textLength="79.0" lengthAdjust="spacingAndGlyphs">Platelets (X10<tspan dy="-2.5" font-size="5.5">9</tspan><tspan dy="2.5">/MCL)</tspan></text>
<text class="rt" x="219.9" y="485.3" textLength="32.0" lengthAdjust="spacingAndGlyphs">r = -.244</text>
<text class="rt" x="219.9" y="494.7" textLength="29.0" lengthAdjust="spacingAndGlyphs">P = .088</text>
<line class="reg" x1="41.0" y1="521.4" x2="239.7" y2="550.1"/>
<circle cx="66.7" cy="483.4" r="1.25"/>
<circle cx="67.3" cy="489.9" r="1.25"/>
<circle cx="89.9" cy="492.2" r="1.25"/>
<circle cx="64.0" cy="502.3" r="1.25"/>
<circle cx="74.9" cy="507.4" r="1.25"/>
<circle cx="78.6" cy="514.8" r="1.25"/>
<circle cx="66.7" cy="515.6" r="1.25"/>
<circle cx="61.6" cy="527.5" r="1.25"/>
<circle cx="88.7" cy="525.5" r="1.25"/>
<circle cx="91.4" cy="526.9" r="1.25"/>
<circle cx="87.9" cy="531.6" r="1.25"/>
<circle cx="84.2" cy="536.2" r="1.25"/>
<circle cx="89.3" cy="537.2" r="1.25"/>
<circle cx="68.8" cy="538.4" r="1.25"/>
<circle cx="70.8" cy="541.9" r="1.25"/>
<circle cx="91.0" cy="544.4" r="1.25"/>
<circle cx="87.3" cy="551.2" r="1.25"/>
<circle cx="93.8" cy="549.5" r="1.25"/>
<circle cx="74.1" cy="554.7" r="1.25"/>
<circle cx="99.6" cy="565.7" r="1.25"/>
<circle cx="107.2" cy="521.4" r="1.25"/>
<circle cx="114.0" cy="522.4" r="1.25"/>
<circle cx="119.7" cy="518.3" r="1.25"/>
<circle cx="119.7" cy="524.9" r="1.25"/>
<circle cx="116.0" cy="508.0" r="1.25"/>
<circle cx="118.1" cy="498.8" r="1.25"/>
<circle cx="118.7" cy="542.9" r="1.25"/>
<circle cx="107.8" cy="546.4" r="1.25"/>
<circle cx="105.3" cy="549.3" r="1.25"/>
<circle cx="110.3" cy="554.2" r="1.25"/>
<circle cx="109.9" cy="556.7" r="1.25"/>
<circle cx="129.0" cy="528.6" r="1.25"/>
<circle cx="128.4" cy="538.2" r="1.25"/>
<circle cx="127.3" cy="547.0" r="1.25"/>
<circle cx="128.8" cy="548.1" r="1.25"/>
<circle cx="126.3" cy="550.5" r="1.25"/>
<circle cx="126.3" cy="563.5" r="1.25"/>
<circle cx="136.2" cy="550.1" r="1.25"/>
<circle cx="137.0" cy="556.3" r="1.25"/>
<circle cx="141.1" cy="503.3" r="1.25"/>
<circle cx="156.2" cy="481.2" r="1.25"/>
<circle cx="150.6" cy="502.4" r="1.25"/>
<circle cx="167.0" cy="522.4" r="1.25"/>
<circle cx="151.9" cy="535.4" r="1.25"/>
<circle cx="190.6" cy="531.8" r="1.25"/>
<circle cx="206.4" cy="534.1" r="1.25"/>
<circle cx="164.1" cy="556.2" r="1.25"/>
<circle cx="169.3" cy="555.5" r="1.25"/>
<circle cx="155.1" cy="562.9" r="1.25"/>
<circle cx="221.7" cy="559.5" r="1.25"/>
<text class="lab" x="272.6" y="466.1">H.</text>
<text class="tit" x="336.9" y="464.9" textLength="142.0" lengthAdjust="spacingAndGlyphs">% Predicted FVC vs. Spleen Volume</text>
<line class="yax" x1="302.8" y1="476.3" x2="302.8" y2="575.6"/>
<line class="xax" x1="302.8" y1="575.6" x2="505.0" y2="575.6"/>
<line class="tk" x1="301.3" y1="571.5" x2="302.8" y2="571.5"/>
<text class="tl" style="font-size:8.0px" x="301.0" y="574.3" text-anchor="end">0</text>
<line class="tk" x1="301.3" y1="559.9" x2="302.8" y2="559.9"/>
<text class="tl" style="font-size:8.0px" x="301.0" y="562.6" text-anchor="end">20</text>
<line class="tk" x1="301.3" y1="548.2" x2="302.8" y2="548.2"/>
<text class="tl" style="font-size:8.0px" x="301.0" y="551.0" text-anchor="end">40</text>
<line class="tk" x1="301.3" y1="536.5" x2="302.8" y2="536.5"/>
<text class="tl" style="font-size:8.0px" x="301.0" y="539.3" text-anchor="end">60</text>
<line class="tk" x1="301.3" y1="524.9" x2="302.8" y2="524.9"/>
<text class="tl" style="font-size:8.0px" x="301.0" y="527.7" text-anchor="end">80</text>
<line class="tk" x1="301.3" y1="513.2" x2="302.8" y2="513.2"/>
<text class="tl" style="font-size:8.0px" x="301.0" y="516.0" text-anchor="end">100</text>
<line class="tk" x1="301.3" y1="501.6" x2="302.8" y2="501.6"/>
<text class="tl" style="font-size:8.0px" x="301.0" y="504.4" text-anchor="end">120</text>
<line class="tk" x1="301.3" y1="489.9" x2="302.8" y2="489.9"/>
<text class="tl" style="font-size:8.0px" x="301.0" y="492.7" text-anchor="end">140</text>
<line class="tk" x1="301.3" y1="478.3" x2="302.8" y2="478.3"/>
<text class="tl" style="font-size:8.0px" x="301.0" y="481.1" text-anchor="end">160</text>
<line class="tk" x1="304.4" y1="575.6" x2="304.4" y2="577.1"/>
<text class="tl" style="font-size:8.0px" x="304.4" y="586.2" text-anchor="middle">0</text>
<line class="tk" x1="337.5" y1="575.6" x2="337.5" y2="577.1"/>
<text class="tl" style="font-size:8.0px" x="337.5" y="586.2" text-anchor="middle">5</text>
<line class="tk" x1="370.7" y1="575.6" x2="370.7" y2="577.1"/>
<text class="tl" style="font-size:8.0px" x="370.7" y="586.2" text-anchor="middle">10</text>
<line class="tk" x1="403.8" y1="575.6" x2="403.8" y2="577.1"/>
<text class="tl" style="font-size:8.0px" x="403.8" y="586.2" text-anchor="middle">15</text>
<line class="tk" x1="437.0" y1="575.6" x2="437.0" y2="577.1"/>
<text class="tl" style="font-size:8.0px" x="437.0" y="586.2" text-anchor="middle">20</text>
<line class="tk" x1="470.1" y1="575.6" x2="470.1" y2="577.1"/>
<text class="tl" style="font-size:8.0px" x="470.1" y="586.2" text-anchor="middle">25</text>
<line class="tk" x1="503.3" y1="575.6" x2="503.3" y2="577.1"/>
<text class="tl" style="font-size:8.0px" x="503.3" y="586.2" text-anchor="middle">30</text>
<text class="axt" x="365.6" y="597.3" textLength="77.1" lengthAdjust="spacingAndGlyphs">Spleen Volume (MN)</text>
<text class="axt" transform="translate(283.5,525.4) rotate(-90)" x="-34.0" y="0" textLength="68.0" lengthAdjust="spacingAndGlyphs">% Predicted PVC</text>
<text class="rt" x="478.3" y="480.1" textLength="29.7" lengthAdjust="spacingAndGlyphs">r = -.346</text>
<text class="rt" x="478.3" y="488.8" textLength="29.7" lengthAdjust="spacingAndGlyphs">P = .015</text>
<line class="reg" x1="304.1" y1="518.5" x2="502.6" y2="536.1"/>
<circle cx="324.7" cy="503.9" r="1.25"/>
<circle cx="329.8" cy="514.2" r="1.25"/>
<circle cx="329.4" cy="518.3" r="1.25"/>
<circle cx="331.8" cy="518.7" r="1.25"/>
<circle cx="337.0" cy="515.8" r="1.25"/>
<circle cx="326.7" cy="529.6" r="1.25"/>
<circle cx="330.4" cy="533.7" r="1.25"/>
<circle cx="334.3" cy="529.6" r="1.25"/>
<circle cx="338.0" cy="532.1" r="1.25"/>
<circle cx="341.7" cy="522.8" r="1.25"/>
<circle cx="347.7" cy="538.2" r="1.25"/>
<circle cx="351.4" cy="510.1" r="1.25"/>
<circle cx="351.4" cy="517.3" r="1.25"/>
<circle cx="354.4" cy="517.9" r="1.25"/>
<circle cx="350.3" cy="521.4" r="1.25"/>
<circle cx="352.4" cy="524.4" r="1.25"/>
<circle cx="353.8" cy="525.9" r="1.25"/>
<circle cx="353.0" cy="528.6" r="1.25"/>
<circle cx="354.4" cy="527.9" r="1.25"/>
<circle cx="357.1" cy="525.5" r="1.25"/>
<circle cx="368.4" cy="527.1" r="1.25"/>
<circle cx="370.3" cy="508.6" r="1.25"/>
<circle cx="372.5" cy="508.6" r="1.25"/>
<circle cx="370.9" cy="513.1" r="1.25"/>
<circle cx="372.9" cy="527.9" r="1.25"/>
<circle cx="377.0" cy="523.4" r="1.25"/>
<circle cx="379.1" cy="524.4" r="1.25"/>
<circle cx="381.2" cy="529.6" r="1.25"/>
<circle cx="382.8" cy="529.2" r="1.25"/>
<circle cx="382.2" cy="543.6" r="1.25"/>
<circle cx="382.8" cy="515.6" r="1.25"/>
<circle cx="391.8" cy="510.7" r="1.25"/>
<circle cx="389.0" cy="522.4" r="1.25"/>
<circle cx="389.8" cy="524.4" r="1.25"/>
<circle cx="390.8" cy="526.5" r="1.25"/>
<circle cx="391.4" cy="536.8" r="1.25"/>
<circle cx="392.5" cy="537.4" r="1.25"/>
<circle cx="399.2" cy="534.7" r="1.25"/>
<circle cx="400.3" cy="538.8" r="1.25"/>
<circle cx="404.4" cy="510.1" r="1.25"/>
<circle cx="415.2" cy="518.0" r="1.25"/>
<circle cx="430.0" cy="517.6" r="1.25"/>
<circle cx="427.2" cy="524.3" r="1.25"/>
<circle cx="419.1" cy="528.7" r="1.25"/>
<circle cx="432.6" cy="532.8" r="1.25"/>
<circle cx="453.7" cy="525.4" r="1.25"/>
<circle cx="413.7" cy="537.4" r="1.25"/>
<circle cx="418.3" cy="545.4" r="1.25"/>
<circle cx="469.6" cy="536.5" r="1.25"/>
<circle cx="484.8" cy="539.8" r="1.25"/>
</svg>
</body></html>
